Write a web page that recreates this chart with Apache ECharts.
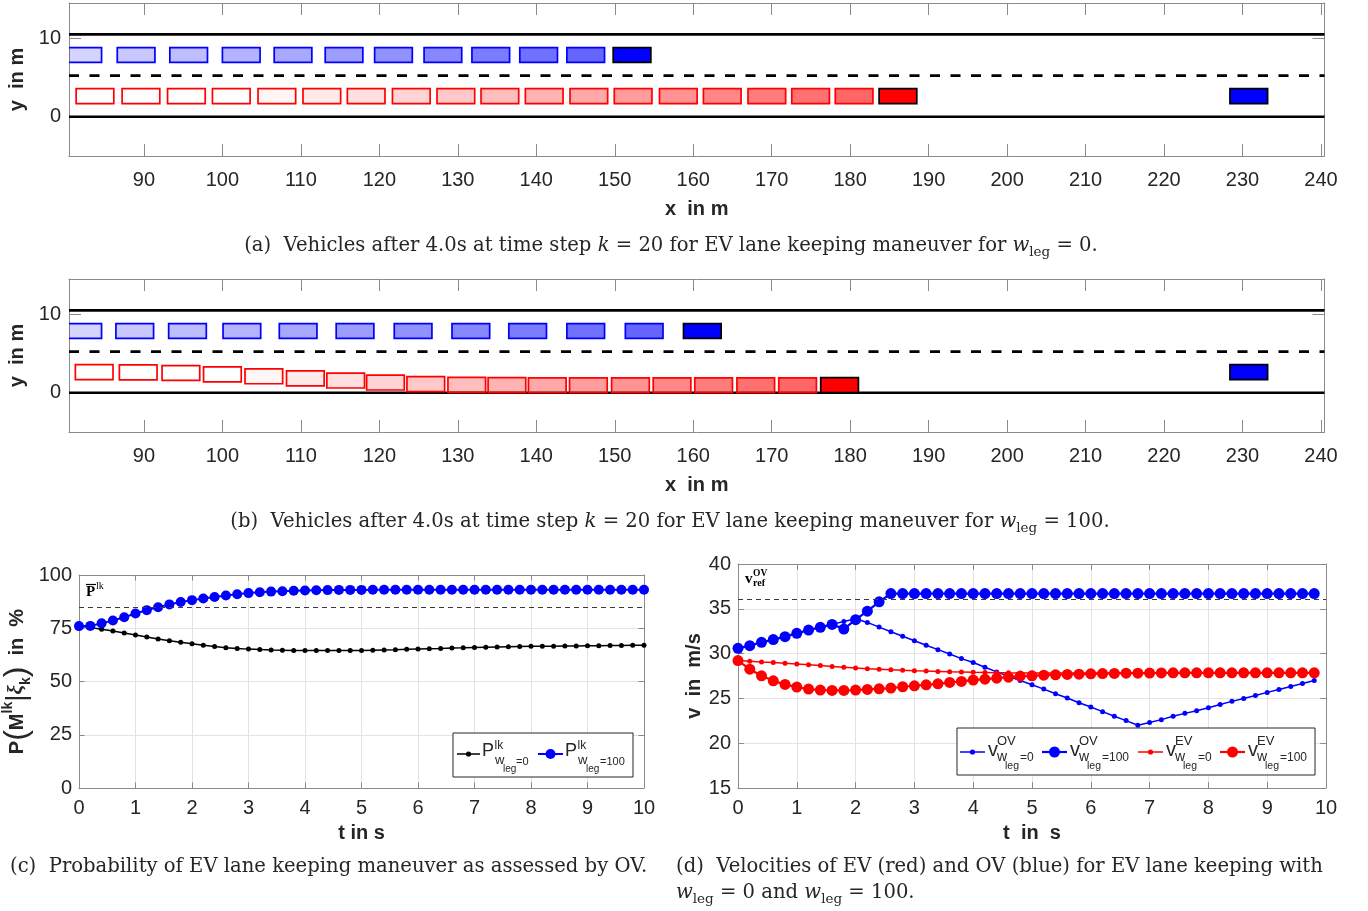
<!DOCTYPE html>
<html><head><meta charset="utf-8">
<script src="https://cdn.jsdelivr.net/npm/echarts@6/dist/echarts.min.js"></script>
<style>html,body{margin:0;padding:0;background:#fff}#c{width:1368px;height:911px}</style>
</head><body><div id="c"></div>
<script>
// ================= DATA =================
// top panels: road and vehicles (metres)
const roadXTicks = [90,100,110,120,130,140,150,160,170,180,190,200,210,220,230,240];
const roadYTicks = [0,10];
const laneSolidY = [0,10.5];
const laneDashedY = [5.25];
// (a) w_leg = 0
const aOvTrailX = [82.2,89.0,95.7,102.4,109.0,115.5,121.8,128.1,134.2,140.3,146.3];
const aOvTrailY = [7.875,7.875,7.875,7.875,7.875,7.875,7.875,7.875,7.875,7.875,7.875];
const aOvNowX = [152.2];
const aOvNowY = [7.875];
const aEvTrailX = [83.76,89.62,95.41,101.13,106.94,112.67,118.32,124.07,129.75,135.36,141.01,146.70,152.34,158.10,163.70,169.38,174.96,180.50];
const aEvTrailY = [2.625,2.625,2.625,2.625,2.625,2.625,2.625,2.625,2.625,2.625,2.625,2.625,2.625,2.625,2.625,2.625,2.625,2.625];
const aEvNowX = [186.09];
const aEvNowY = [2.625];
const aOtherX = [230.8];
const aOtherY = [2.625];
// (b) w_leg = 100
const bOvTrailX = [82.2,88.83,95.55,102.48,109.65,116.9,124.3,131.66,138.9,146.3,153.75];
const bOvTrailY = [7.875,7.875,7.875,7.875,7.875,7.875,7.875,7.875,7.875,7.875,7.875];
const bOvNowX = [161.16];
const bOvNowY = [7.875];
const bEvTrailX = [83.66,89.27,94.71,100.0,105.28,110.57,115.71,120.78,125.92,131.14,136.26,141.4,146.64,152.0,157.3,162.6,167.97,173.3];
const bEvTrailY = [2.63,2.6,2.52,2.35,2.1,1.83,1.56,1.3,1.1,1.0,0.97,0.95,0.95,0.95,0.95,0.95,0.95,0.95];
const bEvNowX = [178.65];
const bEvNowY = [0.97];
const bOtherX = [230.8];
const bOtherY = [2.625];

// (c) probability of lane keeping
const tC = [0,0.2,0.4,0.6,0.8,1,1.2,1.4,1.6,1.8,2,2.2,2.4,2.6,2.8,3,3.2,3.4,3.6,3.8,4,4.2,4.4,4.6,4.8,5,5.2,5.4,5.6,5.8,6,6.2,6.4,6.6,6.8,7,7.2,7.4,7.6,7.8,8,8.2,8.4,8.6,8.8,9,9.2,9.4,9.6,9.8,10];
const pLkW0 = [76.0,75.4,74.5,73.7,72.8,71.8,70.9,70.0,69.1,68.4,67.7,67.0,66.4,65.9,65.5,65.2,65.0,64.8,64.7,64.6,64.5,64.5,64.5,64.5,64.5,
  64.6,64.7,64.8,64.9,65.1,65.3,65.4,65.5,65.7,65.8,66.0,66.1,66.2,66.3,66.4,66.5,66.6,66.6,66.7,66.7,66.8,66.8,66.9,66.9,67.0,67.0];
const pLkW100 = [76.0,76.1,77.3,78.6,80.2,81.9,83.5,84.9,86.2,87.3,88.2,89.0,89.7,90.4,91.0,91.5,91.9,92.2,92.4,92.6,92.7,92.8,92.9,93.0,93.0,
  93.0,93.1,93.1,93.1,93.1,93.1,93.1,93.1,93.1,93.1,93.1,93.1,93.1,93.1,93.1,93.1,93.1,93.1,93.1,93.1,93.1,93.1,93.1,93.1,93.1,93.1];
const pLkThreshold = 85;

// (d) velocities
const tD = [0,0.2,0.4,0.6,0.8,1,1.2,1.4,1.6,1.8,2,2.2,2.4,2.6,2.8,3,3.2,3.4,3.6,3.8,4,4.2,4.4,4.6,4.8,5,5.2,5.4,5.6,5.8,6,6.2,6.4,6.6,6.8,7,7.2,7.4,7.6,7.8,8,8.2,8.4,8.6,8.8,9,9.2,9.4,9.6,9.8];
const vOvW0 = [30.59,30.89,31.26,31.56,31.89,32.26,32.63,32.93,33.26,33.59,33.89,33.48,32.96,32.44,31.93,31.44,30.93,30.44,29.96,29.44,
  29.0,28.48,27.96,27.48,27.0,26.52,26.04,25.52,25.04,24.52,24.04,23.52,23.0,22.52,22.0,22.3,22.63,23.0,23.33,23.63,
  23.96,24.33,24.67,25.0,25.33,25.67,26.0,26.33,26.67,27.0];
const vOvW100 = [30.59,30.89,31.26,31.56,31.89,32.26,32.63,32.93,33.26,32.74,33.78,34.74,35.78,36.7,36.7,36.7,36.7,36.7,36.7,36.7,
  36.7,36.7,36.7,36.7,36.7,36.7,36.7,36.7,36.7,36.7,36.7,36.7,36.7,36.7,36.7,36.7,36.7,36.7,36.7,36.7,
  36.7,36.7,36.7,36.7,36.7,36.7,36.7,36.7,36.7,36.7];
const vEvW0 = [29.22,29.15,29.07,29.0,28.93,28.85,28.76,28.66,28.56,28.47,28.39,28.32,28.26,28.2,28.14,28.09,28.05,28.01,27.97,27.94,
  27.91,27.89,27.87,27.85,27.84,27.83,27.83,27.83,27.83,27.83,27.84,27.84,27.84,27.84,27.84,27.85,27.85,27.85,27.85,27.85,
  27.85,27.85,27.85,27.85,27.85,27.85,27.85,27.85,27.85,27.85];
const vEvW100 = [29.22,28.26,27.52,26.96,26.56,26.26,26.04,25.93,25.89,25.89,25.93,26.0,26.07,26.15,26.3,26.41,26.52,26.63,26.78,26.89,
  27.04,27.15,27.26,27.37,27.48,27.52,27.59,27.63,27.67,27.70,27.74,27.77,27.79,27.81,27.82,27.83,27.84,27.85,27.85,27.85,
  27.85,27.85,27.85,27.85,27.85,27.85,27.85,27.85,27.85,27.85];
const vRefOv = 36.1;

// ================= STYLE / LAYOUT =================
const VEH_LEN = 4.8, VEH_WID = 1.9;
const X_MIN = 80.45, X_MAX = 240.45, Y_MIN = -5, Y_MAX = 14.5;
const AX = '#8a8a8a', TXT = '#262626', SANS = 'Liberation Sans', SERIF = 'Liberation Serif', CAPFONT = 'DejaVu Serif';
const BLUE = '#0000ff', RED = '#ff0000';

function rgba(hex, a){
  const r = parseInt(hex.slice(1,3),16), g = parseInt(hex.slice(3,5),16), b = parseInt(hex.slice(5,7),16);
  return 'rgba('+r+','+g+','+b+','+a.toFixed(3)+')';
}
function pairs(xs, ys){ return xs.map((x,i)=>[x, ys[i]]); }

function vehicleSeries(axis, xs, ys, color, trail){
  const data = pairs(xs, ys);
  return {
    type:'custom', xAxisIndex:axis, yAxisIndex:axis, clip:true, z:5, silent:true, data:data,
    renderItem: function(params, api){
      const c = api.coord([api.value(0), api.value(1)]);
      const s = api.size([VEH_LEN, VEH_WID]);
      let fill, stroke;
      if (trail){
        const j = data.length - params.dataIndex;
        const a = Math.max(0, 0.6 - (j-1)*0.043);
        fill = rgba(color, a); stroke = color;
      } else { fill = color; stroke = '#000'; }
      return {type:'rect', shape:{x:c[0]-s[0]/2, y:c[1]-s[1]/2, width:s[0], height:s[1]},
        style:{fill:fill, stroke:stroke, lineWidth:1.7}};
    }
  };
}
function laneSeries(axis, ys, dashed){
  return {
    type:'custom', xAxisIndex:axis, yAxisIndex:axis, clip:true, z:2, silent:true,
    data: ys.map(v=>[X_MIN, v]),
    renderItem: function(params, api){
      const p = api.coord([api.value(0), api.value(1)]);
      const cs = params.coordSys;
      return {type:'line', shape:{x1:cs.x, y1:p[1], x2:cs.x+cs.width, y2:p[1]},
        style:{stroke:'#000', lineWidth:2.6, lineDash: dashed ? [10,10.5] : null}};
    }
  };
}

const nameStyle = {fontFamily:SANS, fontWeight:'bold', fontSize:20, color:TXT};
function roadAxes(g){
  const xs = [
    {type:'value', gridIndex:g, position:'bottom', min:X_MIN, max:X_MAX,
     axisLine:{onZero:false, lineStyle:{color:AX}},
     axisTick:{inside:true, length:12, customValues:roadXTicks, lineStyle:{color:AX}},
     axisLabel:{customValues:roadXTicks, fontSize:20, color:TXT, fontFamily:SANS, margin:14},
     splitLine:{show:false},
     name:'x  in m', nameLocation:'middle', nameGap:43, nameTextStyle:nameStyle},
    {type:'value', gridIndex:g, position:'top', min:X_MIN, max:X_MAX,
     axisLine:{onZero:false, lineStyle:{color:AX}},
     axisTick:{inside:true, length:12, customValues:roadXTicks, lineStyle:{color:AX}},
     axisLabel:{show:false}, splitLine:{show:false}}
  ];
  const ys = [
    {type:'value', gridIndex:g, position:'left', min:Y_MIN, max:Y_MAX,
     axisLine:{onZero:false, lineStyle:{color:AX}},
     axisTick:{inside:true, length:12, customValues:roadYTicks, lineStyle:{color:AX}},
     axisLabel:{customValues:roadYTicks, fontSize:20, color:TXT, fontFamily:SANS, margin:8},
     splitLine:{show:false},
     name:'y  in m', nameLocation:'middle', nameGap:42, nameTextStyle:nameStyle},
    {type:'value', gridIndex:g, position:'right', min:Y_MIN, max:Y_MAX,
     axisLine:{onZero:false, lineStyle:{color:AX}},
     axisTick:{inside:true, length:12, customValues:roadYTicks, lineStyle:{color:AX}},
     axisLabel:{show:false}, splitLine:{show:false}}
  ];
  return {xs, ys};
}
function plotAxes(g, xmin, xmax, xint, ymin, ymax, yint, tickLen, xName, yName, yNameGap, yRich){
  const split = {show:true, lineStyle:{color:'#e3e3e3', width:1}};
  const xs = [
    {type:'value', gridIndex:g, position:'bottom', min:xmin, max:xmax, interval:xint,
     axisLine:{onZero:false, lineStyle:{color:AX}},
     axisTick:{inside:true, length:tickLen, lineStyle:{color:AX}},
     axisLabel:{fontSize:20, color:TXT, fontFamily:SANS, margin:10},
     splitLine:split,
     name:xName, nameLocation:'middle', nameGap:35, nameTextStyle:nameStyle},
    {type:'value', gridIndex:g, position:'top', min:xmin, max:xmax, interval:xint,
     axisLine:{onZero:false, lineStyle:{color:AX}},
     axisTick:{inside:true, length:tickLen, lineStyle:{color:AX}},
     axisLabel:{show:false}, splitLine:{show:false}}
  ];
  const nts = Object.assign({}, nameStyle);
  if (yRich) nts.rich = yRich;
  const ys = [
    {type:'value', gridIndex:g, position:'left', min:ymin, max:ymax, interval:yint,
     axisLine:{onZero:false, lineStyle:{color:AX}},
     axisTick:{inside:true, length:tickLen, lineStyle:{color:AX}},
     axisLabel:{fontSize:20, color:TXT, fontFamily:SANS, margin:7},
     splitLine:split,
     name:yName, nameLocation:'middle', nameGap:yNameGap, nameTextStyle:nts},
    {type:'value', gridIndex:g, position:'right', min:ymin, max:ymax, interval:yint,
     axisLine:{onZero:false, lineStyle:{color:AX}},
     axisTick:{inside:true, length:tickLen, lineStyle:{color:AX}},
     axisLabel:{show:false}, splitLine:{show:false}}
  ];
  return {xs, ys};
}

const ra = roadAxes(0), rb = roadAxes(1);
const pRich = {
  b:{fontFamily:SANS, fontWeight:'bold', fontSize:20, color:TXT, lineHeight:32},
  p:{fontFamily:SANS, fontWeight:'normal', fontSize:32, color:TXT, lineHeight:32},
  sup:{fontFamily:SANS, fontWeight:'bold', fontSize:14, color:TXT, verticalAlign:'top', lineHeight:24},
  g:{fontFamily:SERIF, fontStyle:'italic', fontSize:21, color:TXT, lineHeight:32},
  sub:{fontFamily:SANS, fontWeight:'bold', fontSize:14, color:TXT, verticalAlign:'bottom', lineHeight:20},
  bar:{fontFamily:SANS, fontWeight:'normal', fontSize:28, color:TXT, lineHeight:32}
};
const pc = plotAxes(2, 0, 10, 1, 0, 100, 25, 5.6, 't in s',
  '{b|P}{p|(}{b|M}{sup|lk}{bar||}{g|ξ}{sub|k}{p|)}{b|  in  %}', 46, pRich);
const pd = plotAxes(3, 0, 10, 1, 15, 40, 5, 5.9, 't  in  s', 'v  in  m/s', 34, null);

function lineSeries(axis, ts, vs, color, size, lw){
  return {type:'line', xAxisIndex:axis, yAxisIndex:axis, data:pairs(ts, vs),
    symbol:'circle', symbolSize:size, showSymbol:true,
    lineStyle:{color:color, width:lw}, itemStyle:{color:color}, z:4, silent:true};
}
function refLine(value){
  return {silent:true, symbol:['none','none'], label:{show:false}, animation:false,
    lineStyle:{type:[5,4], color:'#3a3a3a', width:1.2}, data:[{yAxis:value}]};
}

const sBlackC = lineSeries(4, tC, pLkW0, '#000000', 5, 1.5);
sBlackC.markLine = refLine(pLkThreshold);
const sBlueC = lineSeries(4, tC, pLkW100, BLUE, 10, 2);
const sOv0 = lineSeries(6, tD, vOvW0, BLUE, 5, 1.5);
sOv0.markLine = refLine(vRefOv);
const sOv100 = lineSeries(6, tD, vOvW100, BLUE, 11, 2.2);
const sEv0 = lineSeries(6, tD, vEvW0, RED, 5, 1.5);
const sEv100 = lineSeries(6, tD, vEvW100, RED, 11, 2.2);

// ================= ANNOTATIONS (legends, captions) =================
const G = [];
function txt(t, x, y, size, opt){
  opt = opt || {};
  G.push({type:'text', z:100, silent:true, style:{text:t, x:x, y:y,
    fontFamily: opt.family || SANS, fontSize:size, fontWeight: opt.weight || 'normal',
    fontStyle: opt.style || 'normal', fill: opt.color || TXT,
    align: opt.align || 'left', verticalAlign:'middle', rich: opt.rich}});
}
function legendKey(x1, x2, y, color, r, lw){
  G.push({type:'line', z:100, silent:true, shape:{x1:x1, y1:y, x2:x2, y2:y}, style:{stroke:color, lineWidth:lw}});
  G.push({type:'circle', z:100, silent:true, shape:{cx:(x1+x2)/2, cy:y, r:r}, style:{fill:color}});
}
// legend (c)
G.push({type:'rect', z:99, silent:true, shape:{x:453, y:733, width:180, height:44}, style:{fill:'#fff', stroke:'#262626', lineWidth:1}});
legendKey(457, 480, 754, '#000', 2.6, 1.5);
txt('P', 482, 751, 18); txt('lk', 494.5, 745.5, 12); txt('w', 495, 760.5, 13); txt('leg', 503, 769, 10); txt('=0', 516, 762, 11);
legendKey(538, 563, 754, BLUE, 5, 2);
txt('P', 565, 751, 18); txt('lk', 577.5, 745.5, 12); txt('w', 578, 760.5, 13); txt('leg', 586, 769, 10); txt('=100', 600, 762, 11);
// legend (d)
G.push({type:'rect', z:99, silent:true, shape:{x:957, y:728, width:358, height:47}, style:{fill:'#fff', stroke:'#262626', lineWidth:1}});
const dLeg = [
  {x1:960, col:BLUE, r:2.6, lw:1.5, sup:'OV', tail:'=0'},
  {x1:1042, col:BLUE, r:5.5, lw:2.2, sup:'OV', tail:'=100'},
  {x1:1138, col:RED, r:2.6, lw:1.5, sup:'EV', tail:'=0'},
  {x1:1220, col:RED, r:5.5, lw:2.2, sup:'EV', tail:'=100'}
];
dLeg.forEach(e=>{
  legendKey(e.x1, e.x1+25, 752, e.col, e.r, e.lw);
  const b = e.x1 + 28;
  txt('v', b, 750.5, 20); txt(e.sup, b+9, 741.5, 13); txt('w', b+9, 757.5, 14);
  txt('leg', b+17, 766.5, 10.5); txt(e.tail, b+32, 758, 12);
});
// reference labels
txt('P', 86, 592, 15, {family:SERIF, weight:'bold', color:'#000'});
G.push({type:'line', z:100, silent:true, shape:{x1:86, y1:584.5, x2:96, y2:584.5}, style:{stroke:'#000', lineWidth:1.2}});
txt('lk', 96, 586.5, 10, {family:SERIF, color:'#000'});
txt('v', 745, 579.5, 15, {family:SERIF, weight:'bold', color:'#000'});
txt('OV', 753, 573.5, 9.5, {family:SERIF, weight:'bold', color:'#000'});
txt('ref', 753, 583.5, 10, {family:SERIF, weight:'bold', color:'#000'});

// captions
const CAP = 19.6;
const capRich = {
  n:{fontFamily:CAPFONT, fontSize:CAP, color:'#000', lineHeight:26},
  i:{fontFamily:CAPFONT, fontSize:CAP, fontStyle:'italic', color:'#000', lineHeight:26},
  s:{fontFamily:CAPFONT, fontSize:13.5, color:'#000', verticalAlign:'bottom', lineHeight:14}
};
txt('{n|(a)  Vehicles after 4.0s at time step }{i|k}{n| = 20 for EV lane keeping maneuver for }{i|w}{s|leg}{n| = 0.}', 671, 246, CAP, {rich:capRich, align:'center', family:CAPFONT});
txt('{n|(b)  Vehicles after 4.0s at time step }{i|k}{n| = 20 for EV lane keeping maneuver for }{i|w}{s|leg}{n| = 100.}', 670, 522, CAP, {rich:capRich, align:'center', family:CAPFONT});
txt('{n|(c)  Probability of EV lane keeping maneuver as assessed by OV.}', 10, 867, CAP, {rich:capRich, family:CAPFONT});
txt('{n|(d)  Velocities of EV (red) and OV (blue) for EV lane keeping with}', 676, 867, CAP, {rich:capRich, family:CAPFONT});
txt('{i|w}{s|leg}{n| = 0 and }{i|w}{s|leg}{n| = 100.}', 676, 893, CAP, {rich:capRich, family:CAPFONT});

// ================= CHART =================
const chart = echarts.init(document.getElementById('c'), null, {renderer:'canvas', width:1368, height:911});
chart.setOption({
  animation:false,
  backgroundColor:'#ffffff',
  grid:[
    {left:69, top:3, width:1255.5, height:153, outerBoundsMode:'none'},
    {left:69, top:279, width:1255.5, height:153, outerBoundsMode:'none'},
    {left:79, top:575, width:565, height:213, outerBoundsMode:'none'},
    {left:738, top:564, width:588, height:224, outerBoundsMode:'none'}
  ],
  xAxis:[].concat(ra.xs, rb.xs, pc.xs, pd.xs),
  yAxis:[].concat(ra.ys, rb.ys, pc.ys, pd.ys),
  series:[
    laneSeries(0, laneSolidY, false), laneSeries(0, laneDashedY, true),
    vehicleSeries(0, aOvTrailX, aOvTrailY, BLUE, true),
    vehicleSeries(0, aOvNowX, aOvNowY, BLUE, false),
    vehicleSeries(0, aEvTrailX, aEvTrailY, RED, true),
    vehicleSeries(0, aEvNowX, aEvNowY, RED, false),
    vehicleSeries(0, aOtherX, aOtherY, BLUE, false),
    laneSeries(2, laneSolidY, false), laneSeries(2, laneDashedY, true),
    vehicleSeries(2, bOvTrailX, bOvTrailY, BLUE, true),
    vehicleSeries(2, bOvNowX, bOvNowY, BLUE, false),
    vehicleSeries(2, bEvTrailX, bEvTrailY, RED, true),
    vehicleSeries(2, bEvNowX, bEvNowY, RED, false),
    vehicleSeries(2, bOtherX, bOtherY, BLUE, false),
    sBlackC, sBlueC,
    sOv0, sOv100, sEv0, sEv100
  ],
  graphic: G
});
</script></body></html>
